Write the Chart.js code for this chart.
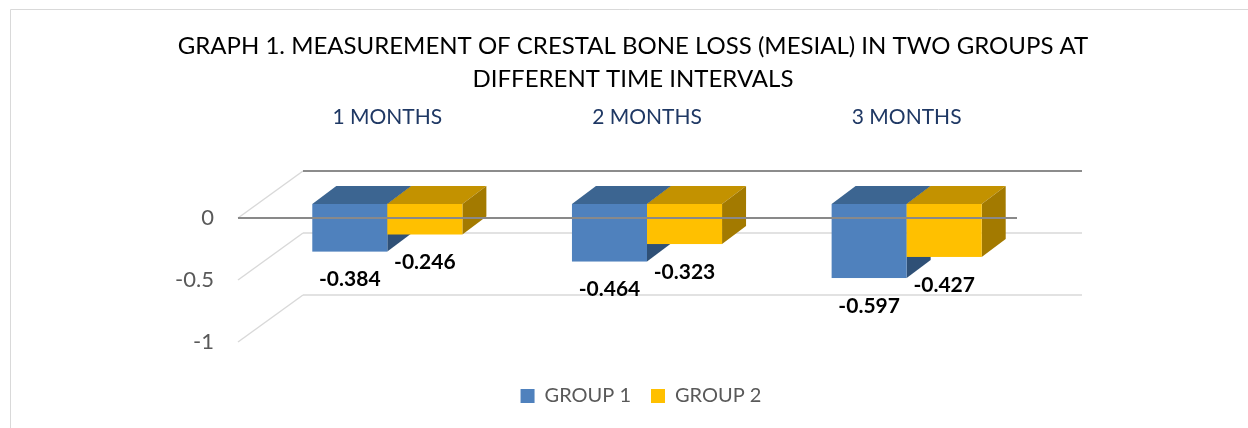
<!DOCTYPE html>
<html>
<head>
<meta charset="utf-8">
<script src="https://cdn.jsdelivr.net/npm/chart.js@4.4.0/dist/chart.umd.min.js"></script>
<style>
  html, body { margin: 0; padding: 0; background: #fff; }
  canvas { display: block; }
</style>
</head>
<body>
<canvas id="chart" width="1248" height="428"></canvas>
<script>
// données
const categories = ["1 MONTHS", "2 MONTHS", "3 MONTHS"];
const seriesNames = ["GROUP 1", "GROUP 2"];
const group1 = [-0.384, -0.464, -0.597];
const group2 = [-0.246, -0.323, -0.427];
const yTicks = [0, -0.5, -1];
const titleLines = [
    "GRAPH 1. MEASUREMENT OF CRESTAL BONE LOSS (MESIAL) IN TWO GROUPS AT",
    "DIFFERENT TIME INTERVALS"
];

// couleurs des faces (avant, dessus, côté)
const palette = [
    { front: "#4f81bd", top: "#3c6591", side: "#2f5076" },
    { front: "#ffc000", top: "#c39200", side: "#a37a00" }
];

const FONT = "Lato, 'Open Sans', sans-serif";
const WALL = { dx: 65, dy: -47 };      // profondeur du cadre 3D
const BAR_OFF = { dx: 19.5, dy: -14 }; // décalage de la face avant des barres
const BAR_DEPTH = { dx: 24, dy: -18 }; // épaisseur des barres

function line(ctx, x0, y0, x1, y1, color, width) {
    ctx.strokeStyle = color;
    ctx.lineWidth = width;
    ctx.beginPath();
    ctx.moveTo(x0, y0);
    ctx.lineTo(x1, y1);
    ctx.stroke();
}

function poly(ctx, pts, color) {
    ctx.fillStyle = color;
    ctx.beginPath();
    ctx.moveTo(pts[0][0], pts[0][1]);
    pts.slice(1).forEach(p => ctx.lineTo(p[0], p[1]));
    ctx.closePath();
    ctx.fill();
}

// Dessine le cadre, les barres en 3D et les étiquettes
const box3d = {
    id: "box3d",
    afterLayout(chart) {
        // recentre la légende comme sur l'original
        chart.legend.left = 34;
    },
    beforeDraw(chart) {
        const ctx = chart.ctx;
        ctx.save();
        ctx.strokeStyle = "#d9d9d9";
        ctx.lineWidth = 1;
        ctx.beginPath();
        ctx.moveTo(10.5, 428);
        ctx.lineTo(10.5, 9.5);
        ctx.lineTo(1248, 9.5);
        ctx.stroke();
        ctx.restore();
    },
    beforeDatasetsDraw(chart) {
        const { ctx, chartArea: a, scales: { y } } = chart;
        ctx.save();

        // murs du fond et côté gauche
        yTicks.forEach(v => {
            const py = y.getPixelForValue(v);
            line(ctx, a.left, py, a.left + WALL.dx, py + WALL.dy, "#d9d9d9", 1.5);
            line(ctx, a.left + WALL.dx, py + WALL.dy, a.right + WALL.dx, py + WALL.dy,
                v === 0 ? "#8c8c8c" : "#d9d9d9", v === 0 ? 2 : 1.5);
        });

        // barres
        const metas = chart.getSortedVisibleDatasetMetas();
        const labels = [];
        categories.forEach((cat, i) => {
            metas.forEach(meta => {
                const el = meta.data[i];
                const col = palette[meta.index];
                const x0 = el.x - el.width / 2 + BAR_OFF.dx;
                const x1 = el.x + el.width / 2 + BAR_OFF.dx;
                const yt = Math.min(el.base, el.y) + BAR_OFF.dy;
                const yb = Math.max(el.base, el.y) + BAR_OFF.dy;
                const dx = BAR_DEPTH.dx, dy = BAR_DEPTH.dy;
                poly(ctx, [[x0, yt], [x1, yt], [x1 + dx, yt + dy], [x0 + dx, yt + dy]], col.top);
                poly(ctx, [[x1, yt], [x1, yb], [x1 + dx, yb + dy], [x1 + dx, yt + dy]], col.side);
                ctx.fillStyle = col.front;
                ctx.fillRect(x0, yt, x1 - x0, yb - yt);
                labels.push({ x: (x0 + x1) / 2, y: yb + 28, text: String(meta._dataset.data[i]) });
            });
        });

        // ligne du zéro à l'avant
        const y0 = y.getPixelForValue(0);
        line(ctx, a.left, y0, a.right, y0, "#898989", 2);

        // étiquettes des valeurs
        ctx.fillStyle = "#000";
        ctx.font = "bold 21px " + FONT;
        ctx.textAlign = "center";
        ctx.textBaseline = "middle";
        labels.forEach(l => ctx.fillText(l.text, l.x, l.y));

        ctx.restore();
        return false;
    }
};

new Chart(document.getElementById("chart").getContext("2d"), {
    type: "bar",
    data: {
        labels: categories,
        datasets: [
            { label: seriesNames[0], data: group1, backgroundColor: palette[0].front },
            { label: seriesNames[1], data: group2, backgroundColor: palette[1].front }
        ]
    },
    options: {
        responsive: false,
        animation: false,
        events: [],
        layout: { padding: { left: 18, right: 0, top: 0, bottom: 12 } },
        datasets: { bar: { categoryPercentage: 0.578, barPercentage: 1 } },
        scales: {
            x: {
                position: "top",
                grid: { display: false, drawTicks: false },
                border: { display: false },
                ticks: { color: "#1f3864", font: { family: FONT, size: 21 }, padding: 88, labelOffset: 19.5 },
                afterFit(s) { s.height = 122; }
            },
            x2: {
                type: "linear",
                position: "bottom",
                grid: { display: false, drawTicks: false },
                border: { display: false },
                ticks: { display: false },
                afterFit(s) { s.height = 24; }
            },
            y: {
                min: -1,
                max: 0,
                grid: { display: false, drawTicks: false },
                border: { display: false },
                afterBuildTicks(s) { s.ticks = yTicks.map(v => ({ value: v })); },
                ticks: { color: "#595959", font: { family: FONT, size: 22 }, padding: 24, callback: v => String(v) },
                afterFit(s) { s.width = 220; }
            },
            y2: {
                type: "linear",
                position: "right",
                grid: { display: false, drawTicks: false },
                border: { display: false },
                ticks: { display: false },
                afterFit(s) { s.width = 231; }
            }
        },
        plugins: {
            title: {
                display: true,
                text: titleLines,
                color: "#000",
                font: { family: FONT, size: 24, weight: "normal", lineHeight: 1.375 },
                padding: { top: 30, bottom: 0 }
            },
            legend: {
                position: "bottom",
                labels: {
                    boxWidth: 14,
                    boxHeight: 14,
                    padding: 20,
                    color: "#595959",
                    font: { family: FONT, size: 20 }
                }
            },
            tooltip: { enabled: false }
        }
    },
    plugins: [box3d]
});
</script>
</body>
</html>
